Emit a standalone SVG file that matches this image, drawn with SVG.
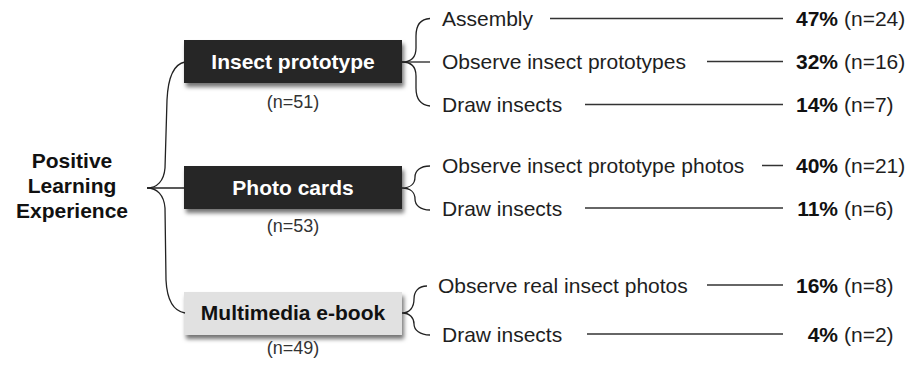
<svg xmlns="http://www.w3.org/2000/svg" width="912" height="365" viewBox="0 0 912 365">
<defs>
<filter id="sh" x="-10%" y="-20%" width="125%" height="160%">
<feDropShadow dx="2" dy="4" stdDeviation="2" flood-color="#000" flood-opacity="0.55"/>
</filter>
</defs>
<style>
text{font-family:"Liberation Sans",Arial,sans-serif;fill:#1e1e1e}
.lbl{font-size:21px;font-weight:bold;text-anchor:middle;fill:#111}
.box{font-size:21px;font-weight:bold;text-anchor:middle}
.n{font-size:18px;text-anchor:middle;fill:#333}
.it{font-size:21px}
.pc{font-size:21px;font-weight:bold;text-anchor:end;fill:#111}
.br{fill:none;stroke:#222;stroke-width:1.3}
.ln{fill:none;stroke:#333;stroke-width:1.5}
</style>
<rect width="912" height="365" fill="#fff"/>
<g id="root">
<text class="lbl" x="72" y="168">Positive</text>
<text class="lbl" x="72" y="193">Learning</text>
<text class="lbl" x="72" y="218">Experience</text>
</g>
<g id="insect-prototype">
<rect x="184" y="40" width="218" height="43" fill="#262626" filter="url(#sh)"/>
<text class="box" x="293" y="69" style="fill:#fff">Insect prototype</text>
<text class="n" x="293" y="108">(n=51)</text>
</g>
<g id="photo-cards">
<rect x="184" y="166" width="218" height="43" fill="#262626" filter="url(#sh)"/>
<text class="box" x="293" y="195" style="fill:#fff">Photo cards</text>
<text class="n" x="293" y="232">(n=53)</text>
</g>
<g id="multimedia-ebook">
<rect x="184" y="292" width="218" height="43" fill="#e1e1e1" filter="url(#sh)"/>
<text class="box" x="293" y="320" style="fill:#111">Multimedia e-book</text>
<text class="n" x="293" y="354">(n=49)</text>
</g>
<g id="item-assembly">
<text class="it" x="442" y="26">Assembly</text>
<text class="pc" x="838" y="26">47%</text>
<text class="it" x="844" y="26">(n=24)</text>
</g>
<g id="item-observe-prototypes">
<text class="it" x="442" y="69">Observe insect prototypes</text>
<text class="pc" x="838" y="69">32%</text>
<text class="it" x="844" y="69">(n=16)</text>
</g>
<g id="item-draw-1">
<text class="it" x="442" y="112">Draw insects</text>
<text class="pc" x="838" y="112">14%</text>
<text class="it" x="844" y="112">(n=7)</text>
</g>
<g id="item-observe-photos">
<text class="it" x="442" y="173">Observe insect prototype photos</text>
<text class="pc" x="838" y="173">40%</text>
<text class="it" x="844" y="173">(n=21)</text>
</g>
<g id="item-draw-2">
<text class="it" x="442" y="215.5">Draw insects</text>
<text class="pc" x="838" y="215.5">11%</text>
<text class="it" x="844" y="215.5">(n=6)</text>
</g>
<g id="item-observe-real">
<text class="it" x="438" y="292.5">Observe real insect photos</text>
<text class="pc" x="838" y="292.5">16%</text>
<text class="it" x="844" y="292.5">(n=8)</text>
</g>
<g id="item-draw-3">
<text class="it" x="442" y="341.5">Draw insects</text>
<text class="pc" x="838" y="341.5">4%</text>
<text class="it" x="844" y="341.5">(n=2)</text>
</g>
<g id="connectors">
<path class="br" d="M185,62 C174,64 168,78 167,100 L165,168 C164,181 157,188 147,188 C157,188 164,195 165,208 L166,280 C167,300 173,311 185,313"/>
<path class="br" d="M147,188 H185"/>
<path class="br" d="M430,18.5 C420,19 416,26 416,36 L416,48 C416,57 411,62 402,62 C411,62 416,67 416,76 L416,88 C416,98 420,105 430,106"/>
<path class="br" d="M402,62 H430"/>
<path class="br" d="M430,166 C420,166 415,171 415,177 C415,184 410,188 402,188 C410,188 415,192 415,199 C415,205 420,210 430,210"/>
<path class="br" d="M427,286 C418,286 414,292 414,299 C414,307 410,313 402,313 C410,313 414,318 414,324 C414,330 420,335 430,335"/>
<path class="ln" d="M550,18.5 H783"/>
<path class="ln" d="M707,61.5 H783"/>
<path class="ln" d="M585,104.5 H783"/>
<path class="ln" d="M762,165.5 H783"/>
<path class="ln" d="M585,208 H783"/>
<path class="ln" d="M707,285 H783"/>
<path class="ln" d="M587,334 H783"/>
</g>
</svg>
